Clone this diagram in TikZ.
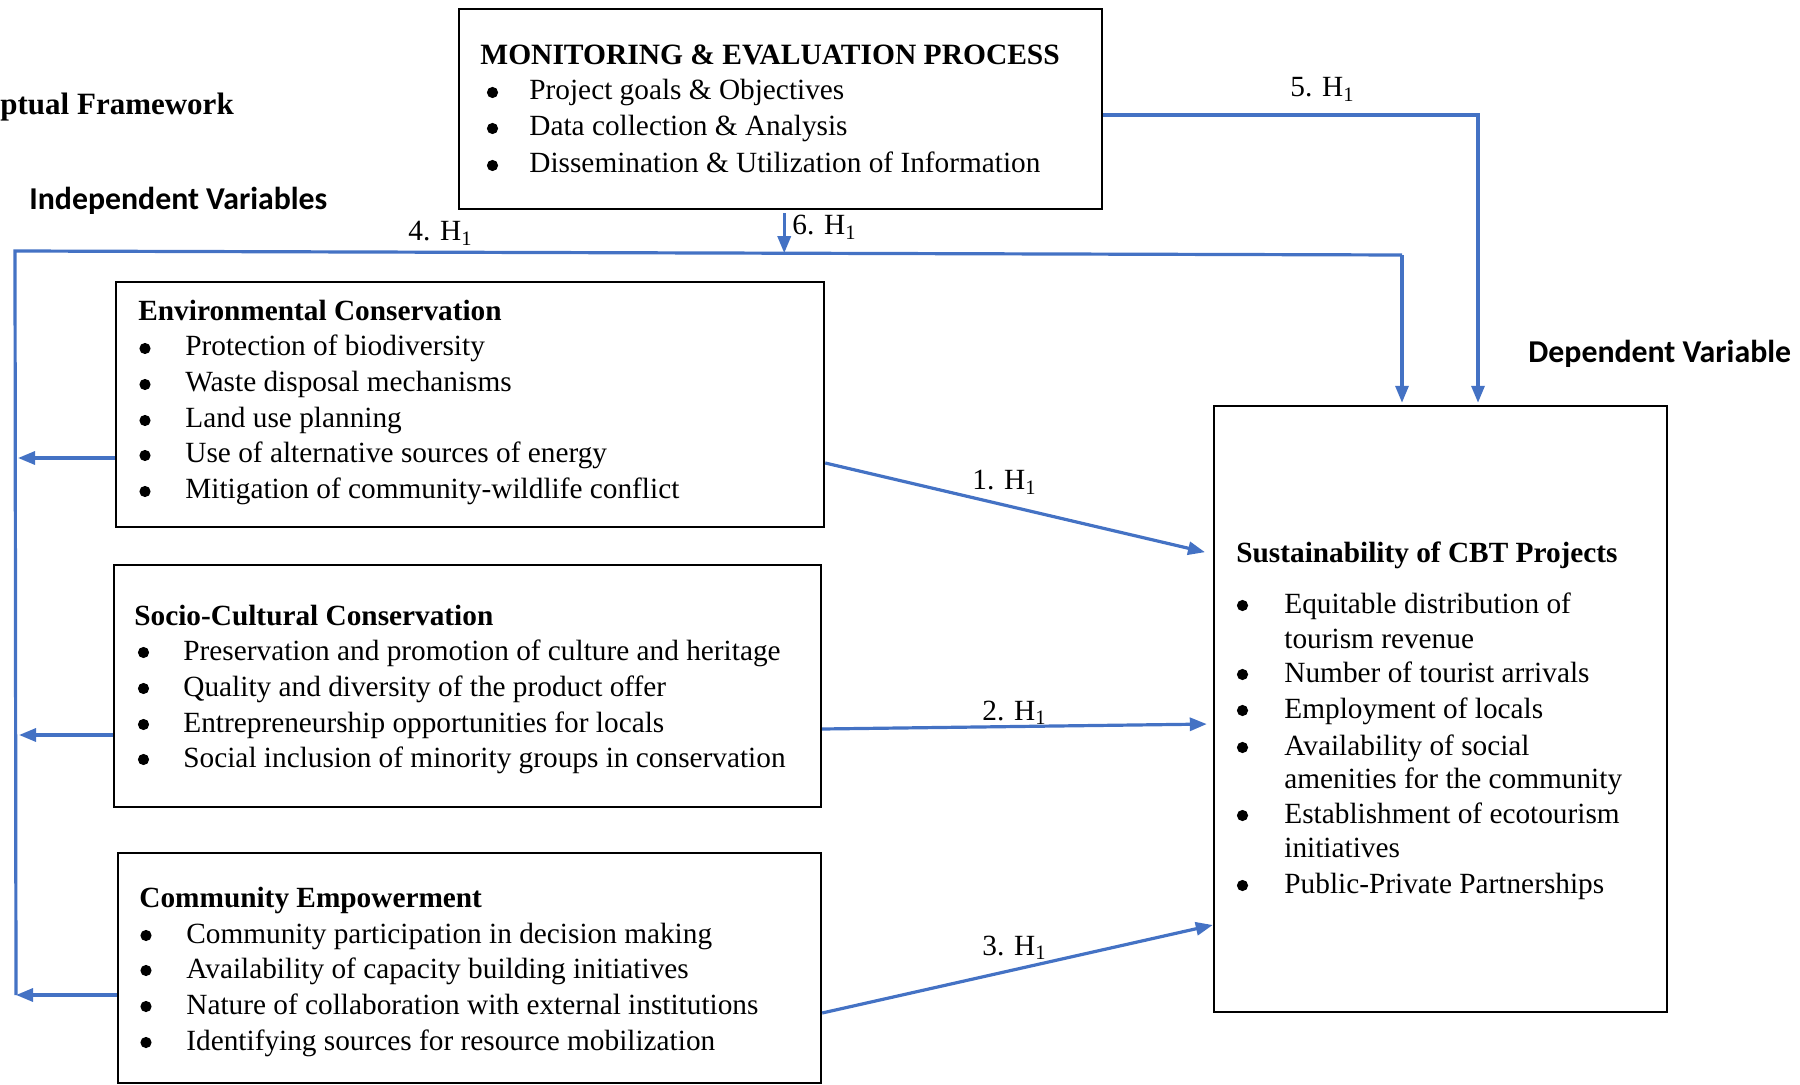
\documentclass[tikz,border=0pt]{standalone}
\usepackage{fontspec}
\setmainfont{Liberation Serif}
\newfontfamily\calibfont{Carlito}
\usetikzlibrary{arrows.meta,fit,calc}
\definecolor{linkblue}{HTML}{4472C4}

% bulleted lines: name prefix, bullet left x, text x, {y/text,...}
\newcommand\blist[4]{%
  \foreach \yy/\txt [count=\k] in {#4}{%
    \node[dotb] (#1b\k) at ({#2+5.5},{\yy-7.5}) {};
    \node[item] (#1t\k) at (#3,\yy) {\txt};
  }}

\tikzset{
  box/.style={draw=black, line width=1.2pt, inner sep=0pt},
  dotb/.style={circle, fill=black, inner sep=0pt, minimum size=5.6pt},
  item/.style={anchor=base west, inner sep=0pt, font=\fontsize{14.65}{18}\selectfont},
  head/.style={anchor=base west, inner sep=0pt, font=\fontsize{14.65}{18}\selectfont\bfseries},
  hyp/.style={anchor=base west, inner sep=0pt, font=\fontsize{14.65}{18}\selectfont},
  varlabel/.style={anchor=base west, inner sep=0pt, font=\calibfont\bfseries\fontsize{15.9}{19}\selectfont},
  link/.style={draw=linkblue, line width=1.6pt},
  arr/.style={link, -{Triangle[length=8.5pt,width=6.5pt]}}
}

\begin{document}
\begin{tikzpicture}[x=0.5pt,y=-0.5pt]
\useasboundingbox (0,0) rectangle (1800,1085);

% headings
\node[anchor=base west, inner sep=0pt, font=\fontsize{15.5}{19}\selectfont\bfseries] (frame) at (0,115) {ptual Framework};
\node[varlabel] (indep) at (29,210) {Independent Variables};
\node[varlabel] (dep) at (1528,363) {Dependent Variable};

% boxes
\node[box, fit={(459,9) (1102,209)}] (me) {};
\node[box, fit={(116,282) (824,527)}] (env) {};
\node[box, fit={(114,565) (821,807)}] (soc) {};
\node[box, fit={(118,853) (821,1083)}] (com) {};
\node[box, fit={(1214,406) (1667,1012)}] (sust) {};

% monitoring and evaluation
\node[head, font=\fontsize{14.75}{18}\selectfont\bfseries] (meT) at (480,65) {MONITORING \& EVALUATION PROCESS};
\blist{me}{487}{529}{100/Project goals \& Objectives, 136/Data collection \& Analysis, 173/Dissemination \& Utilization of Information}

% environmental conservation
\node[head] (envT) at (138,321) {Environmental Conservation};
\blist{env}{139.5}{185}{356/Protection of biodiversity, 392/Waste disposal mechanisms, 428/Land use planning, 463/Use of alternative sources of energy, 499/Mitigation of community-wildlife conflict}

% socio-cultural conservation
\node[head] (socT) at (134,625) {Socio-Cultural Conservation};
\blist{soc}{138}{183}{660/Preservation and promotion of culture and heritage, 696/Quality and diversity of the product offer, 732/Entrepreneurship opportunities for locals, 767/Social inclusion of minority groups in conservation}

% community empowerment
\node[head] (comT) at (139,907) {Community Empowerment};
\blist{com}{140.5}{186}{943/Community participation in decision making, 978/Availability of capacity building initiatives, 1014/Nature of collaboration with external institutions, 1050/Identifying sources for resource mobilization}

% sustainability of CBT projects
\node[head] (sustT) at (1236,562) {Sustainability of CBT Projects};
\blist{sust}{1237}{1284}{613/Equitable distribution of, 682/Number of tourist arrivals, 718/Employment of locals, 755/Availability of social, 823/Establishment of ecotourism, 893/Public-Private Partnerships}
\node[item] (sustc1) at (1284,648) {tourism revenue};
\node[item] (sustc2) at (1284,788) {amenities for the community};
\node[item] (sustc3) at (1284,857) {initiatives};

% collector line along the left and across the top
\coordinate (busTL) at (15,251);
\coordinate (busBL) at (16,995);
\coordinate (busTR) at (1402,255);
\draw[link, line join=miter] (busBL) -- (busTL) -- (busTR);
\draw[arr, shorten >=1pt] (busTR) -- (sust.north -| busTR);

% independent variables feeding the collector
\draw[arr, shorten >=1.5pt] (env.west |- 0,458) -- (busTL |- 0,458);
\draw[arr, shorten >=2pt] (soc.west |- 0,735) -- (busTL |- 0,735);
\draw[arr] (com.west |- 0,995) -- (busBL);

% hypotheses 1-3
\draw[arr, shorten >=4pt] (env.east |- 0,463) -- (sust.west |- 0,554);
\draw[arr, shorten >=3pt] (soc.east |- 0,729) -- (sust.west |- 0,724);
\draw[arr] (com.east |- 0,1013) -- (sust.west |- 0,925);

% hypotheses 5 and 6
\draw[arr, shorten >=1pt, line join=miter] (me.east |- 0,115) -- (1478,115) -- (sust.north -| 1478,0);
\coordinate (m6) at ($(busTL)!(785,0)!(busTR)$);
\draw[arr, shorten <=1.5pt] (me.south -| m6) -- (m6);

% hypothesis labels
\node[hyp] (h1) at (972,490) {1. H\textsubscript{1}};
\node[hyp] (h2) at (982,720) {2. H\textsubscript{1}};
\node[hyp] (h3) at (982,955) {3. H\textsubscript{1}};
\node[hyp] (h4) at (408,241) {4. H\textsubscript{1}};
\node[hyp] (h5) at (1290,97) {5. H\textsubscript{1}};
\node[hyp] (h6) at (792,235) {6. H\textsubscript{1}};
\end{tikzpicture}
\end{document}
